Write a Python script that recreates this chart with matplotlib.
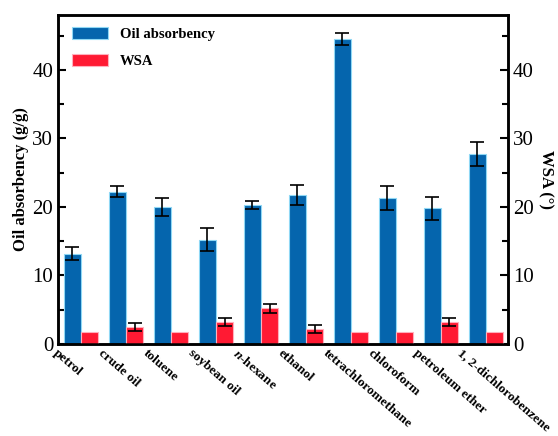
import numpy as np
import matplotlib.pyplot as plt

plt.rcParams['font.family'] = ['Liberation Serif', 'DejaVu Serif']
plt.rcParams['mathtext.fontset'] = 'custom'
plt.rcParams['mathtext.it'] = 'Liberation Serif:italic:bold'

# --- Daten ---------------------------------------------------------------
solvents = ['petrol', 'crude oil', 'toluene', 'soybean oil', r'$\mathit{n}$-hexane',
            'ethanol', 'tetrachloromethane', 'chloroform', 'petroleum ether',
            '1, 2-dichlorobenzene']
oil_abs = [13.2, 22.2, 20.0, 15.2, 20.3, 21.75, 44.5, 21.3, 19.8, 27.7]
oil_err = [0.95, 0.8, 1.35, 1.7, 0.55, 1.45, 0.9, 1.8, 1.7, 1.75]
wsa     = [1.8, 2.5, 1.8, 3.25, 5.2, 2.2, 1.8, 1.8, 3.2, 1.8]
wsa_err = [0, 0.6, 0, 0.6, 0.65, 0.6, 0, 0, 0.6, 0]

blue, red = '#0565ad', '#ff1a33'
w = 0.38
idx = np.arange(len(solvents))

fig = plt.figure(figsize=(5.58, 4.36), dpi=100)
ax = fig.add_axes([58/558, 1-344/436, 450/558, 329/436])
ax2 = ax.twinx()

ax.bar(idx - w/2, oil_abs, w, color=blue, edgecolor='#8fd8f5', linewidth=0.8,
       yerr=oil_err, error_kw=dict(ecolor='black', capsize=5, elinewidth=1.2, capthick=1.2),
       label='Oil absorbency', zorder=2)
wsa_e = [e if e > 0 else np.nan for e in wsa_err]
ax2.bar(idx + w/2, wsa, w, color=red, edgecolor='#ffb0bd', linewidth=0.8,
        label='WSA', zorder=2)
ax2.errorbar(idx + w/2, wsa, yerr=wsa_e, fmt='none', ecolor='black',
             capsize=5, elinewidth=1.2, capthick=1.2)

for a in (ax, ax2):
    a.set_ylim(0, 48)
    a.set_yticks([0, 10, 20, 30, 40])
    a.set_yticks([5, 15, 25, 35, 45], minor=True)
    a.tick_params(axis='y', direction='in', labelsize=15, width=1.5, length=6)
    a.tick_params(axis='y', which='minor', direction='in', width=1.5, length=4)
    for s in a.spines.values():
        s.set_linewidth(1.8)
ax.set_xlim(-0.51, 9.49)

ax.set_xticks(idx - 0.5)
ax.set_xticklabels(solvents, rotation=-41, ha='left', va='top',
                   rotation_mode='anchor', fontsize=9.6, fontweight='bold')
ax.tick_params(axis='x', length=0, pad=2)

ax.set_ylabel('Oil absorbency (g/g)', fontsize=12, fontweight='bold', labelpad=2)
ax2.set_ylabel('WSA (°)', fontsize=12, fontweight='bold', rotation=270, labelpad=14)

h1, l1 = ax.get_legend_handles_labels()
h2, l2 = ax2.get_legend_handles_labels()
leg = ax.legend(h1 + h2, l1 + l2, loc='upper left', frameon=False,
                prop=dict(size=10.5, weight='bold'), handlelength=2.5,
                handleheight=0.9, handletextpad=0.8, labelspacing=0.9,
                borderaxespad=0.4, bbox_to_anchor=(0.005, 1.0))

fig.savefig('out.png', dpi=100)
